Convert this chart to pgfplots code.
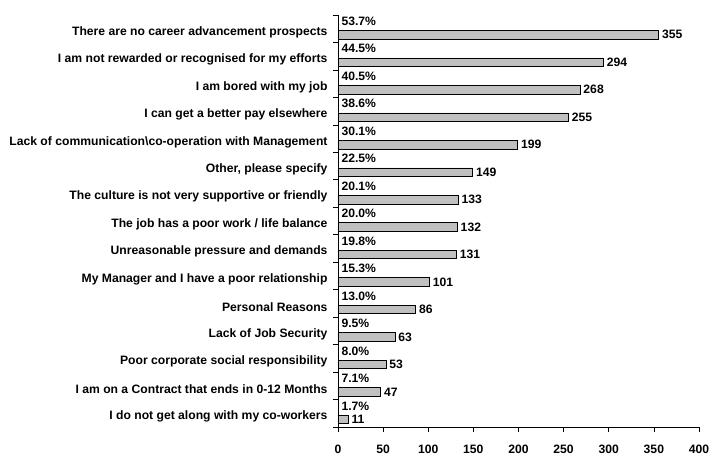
\documentclass[border=0pt]{standalone}
\usepackage{pgfplots}
\pgfplotsset{compat=1.18}
\usepackage{pgfplotstable}
\usepackage{fontspec}
\setmainfont{Liberation Sans}
\usetikzlibrary{calc}
\definecolor{barfill}{RGB}{192,192,192}

\pgfplotstableread{
k count pct
14 355 53.7
13 294 44.5
12 268 40.5
11 255 38.6
10 199 30.1
9 149 22.5
8 133 20.1
7 132 20.0
6 131 19.8
5 101 15.3
4 86 13.0
3 63 9.5
2 53 8.0
1 47 7.1
0 11 1.7
}\datatable

\begin{document}
\begin{tikzpicture}
\begin{axis}[
  scale only axis, width=361bp, height=412bp,
  xmin=0, xmax=400, ymin=-0.5, ymax=14.5,
  axis lines*=left,
  axis line style={black, line width=0.6pt},
  xtick={0,50,...,400},
  ytick={-0.5,0.5,...,14.5},
  yticklabels={},
  tick align=outside,
  major tick length=5bp,
  tick style={black, line width=0.6pt},
  extra y ticks={-0.12,0.88,1.88,2.88,3.88,4.88,5.88,6.88,7.88,8.88,9.88,10.88,11.88,12.88,13.88},
  extra y tick labels={
    I do not get along with my co-workers,
    I am on a Contract that ends in 0-12 Months,
    Poor corporate social responsibility,
    Lack of Job Security,
    Personal Reasons,
    My Manager and I have a poor relationship,
    Unreasonable pressure and demands,
    The job has a poor work / life balance,
    The culture is not very supportive or friendly,
    {Other, please specify},
    Lack of communication\textbackslash co-operation with Management,
    I can get a better pay elsewhere,
    I am bored with my job,
    I am not rewarded or recognised for my efforts,
    There are no career advancement prospects},
  extra y tick style={tick style={draw=none}},
  yticklabel style={xshift=-2bp},
  xticklabel style={yshift=-9bp},
  font=\bfseries\fontsize{12.2}{14}\selectfont,
  /pgf/number format/assume math mode=true,
  clip=false,
]
\addplot[xbar, bar width=8.5bp, bar shift=0pt, fill=barfill, draw=black, line width=0.6pt,
  point meta=x, nodes near coords, nodes near coords align={anchor=west},
  nodes near coords style={font=\bfseries\fontsize{12.2}{14}\selectfont, text=black}]
  table[x=count, y expr=\thisrow{k}-0.22] {\datatable};
\addplot[draw=none, mark=none, point meta=explicit symbolic,
  nodes near coords={\pgfplotspointmeta\%}, nodes near coords align={anchor=west},
  nodes near coords style={font=\bfseries\fontsize{12.2}{14}\selectfont, text=black}]
  table[x expr=0, y expr=\thisrow{k}+0.27, meta=pct] {\datatable};
\coordinate (bl) at (rel axis cs:0,0);
\coordinate (tr) at (rel axis cs:1,1);
\end{axis}
\pgfresetboundingbox
\path ($(bl)+(-338bp,-28bp)$) rectangle ($(tr)+(11bp,15bp)$);
\end{tikzpicture}
\end{document}
